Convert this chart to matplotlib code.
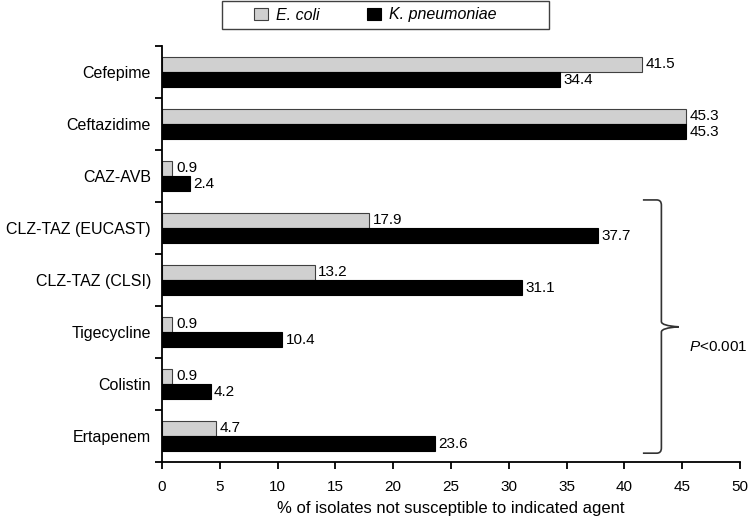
import matplotlib
matplotlib.use("Agg")
import matplotlib.pyplot as plt
from matplotlib.path import Path
import matplotlib.patches as patches
import numpy as np

plt.rcParams['font.family'] = ['Liberation Sans', 'DejaVu Sans']
plt.rcParams['mathtext.fontset'] = 'custom'
plt.rcParams['mathtext.it'] = 'Liberation Sans:italic'
plt.rcParams['mathtext.rm'] = 'Liberation Sans'

# Datos
agents = ["Cefepime", "Ceftazidime", "CAZ-AVB", "CLZ-TAZ (EUCAST)",
          "CLZ-TAZ (CLSI)", "Tigecycline", "Colistin", "Ertapenem"]
ecoli = [41.5, 45.3, 0.9, 17.9, 13.2, 0.9, 0.9, 4.7]
kpneu = [34.4, 45.3, 2.4, 37.7, 31.1, 10.4, 4.2, 23.6]
xticks = [0, 5, 10, 15, 20, 25, 30, 35, 40, 45, 50]

fig = plt.figure(figsize=(7.48, 5.2), dpi=100)
ax = fig.add_axes([0.2166, 0.1115, 0.7727, 0.8])

y = np.arange(len(agents))
h = 0.29
b1 = ax.barh(y - h / 2, ecoli, height=h, color='#d0d0d0', edgecolor='#404040',
             linewidth=0.8, label='E. coli')
b2 = ax.barh(y + h / 2, kpneu, height=h, color='black', edgecolor='black',
             linewidth=0.8, label='K. pneumoniae')

for yy, v in zip(y, ecoli):
    ax.text(v + 0.3, yy - h / 2, f"{v:.1f}", va='center', ha='left', fontsize=11)
for yy, v in zip(y, kpneu):
    ax.text(v + 0.3, yy + h / 2, f"{v:.1f}", va='center', ha='left', fontsize=11)

ax.set_ylim(len(agents) - 0.5, -0.5)
ax.set_xlim(0, 50)
ax.set_yticks(y)
ax.set_yticklabels(agents, fontsize=11.5)
ax.set_yticks(np.arange(-0.5, len(agents)), minor=True)
ax.tick_params(axis='y', which='major', length=0, pad=8)
ax.tick_params(axis='y', which='minor', length=5, width=1.3, direction='out')
ax.set_xticks(xticks)
ax.set_xticklabels([str(t) for t in xticks], fontsize=11)
ax.tick_params(axis='x', length=5, width=1.3, direction='out', pad=8)
ax.set_xlabel("% of isolates not susceptible to indicated agent", fontsize=12,
              labelpad=5)

for s in ['top', 'right']:
    ax.spines[s].set_visible(False)
for s in ['left', 'bottom']:
    ax.spines[s].set_linewidth(1.3)

# Llave a la derecha
x0, x1, xt = 41.6, 43.2, 44.7
ytop, ybot, ymid = 2.46, 7.33, 4.90
rx, ry = 0.4, 0.1
verts = [(x0, ytop), (x1 - rx, ytop), (x1, ytop), (x1, ytop + ry),
         (x1, ymid - ry), (x1, ymid - 0.02), (xt, ymid),
         (x1, ymid + 0.02), (x1, ymid + ry),
         (x1, ybot - ry), (x1, ybot), (x1 - rx, ybot), (x0, ybot)]
codes = [Path.MOVETO, Path.LINETO, Path.CURVE3, Path.CURVE3,
         Path.LINETO, Path.CURVE3, Path.CURVE3,
         Path.CURVE3, Path.CURVE3,
         Path.LINETO, Path.CURVE3, Path.CURVE3, Path.LINETO]
brace = patches.PathPatch(Path(verts, codes), fill=False, lw=1.2,
                          edgecolor='#333333', clip_on=False)
ax.add_patch(brace)
ax.text(45.6, 5.29, "$P$<0.001", fontsize=11, va='center', ha='left')

# Leyenda con recuadro propio
box = patches.Rectangle((222 / 748, 1 - 29 / 520), 327 / 748, 28 / 520,
                        transform=fig.transFigure, fill=False,
                        edgecolor='#404040', lw=1.0)
fig.patches.append(box)
leg = fig.legend(handles=[b1, b2], labels=['E. coli', 'K. pneumoniae'],
                 loc='center', bbox_to_anchor=(375 / 748, 1 - 15 / 520), ncol=2,
                 frameon=False, prop={'style': 'italic', 'size': 11.5},
                 handlelength=0.85, handleheight=0.85, handletextpad=0.5,
                 columnspacing=3.0, borderpad=0, borderaxespad=0)

fig.savefig("out.png", dpi=100)
